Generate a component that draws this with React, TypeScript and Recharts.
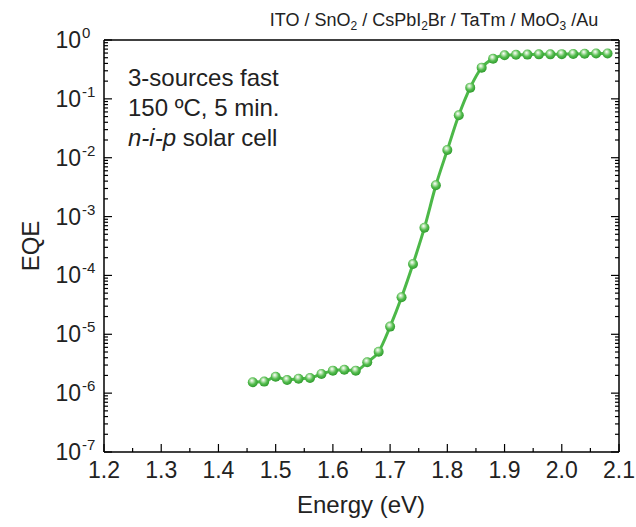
import React from 'react';
import { LineChart, Line, XAxis, YAxis } from 'recharts';

// photon energy (eV) of each measured point
const energies = [
  1.46, 1.48, 1.5, 1.52, 1.54, 1.56, 1.58, 1.6, 1.62, 1.64, 1.66, 1.68, 1.7, 1.72, 1.74, 1.76,
  1.78, 1.8, 1.82, 1.84, 1.86, 1.88, 1.9, 1.92, 1.94, 1.96, 1.98, 2.0, 2.02, 2.04, 2.06, 2.08,
];

// external quantum efficiency
const eqeValues = [
  1.53e-6, 1.57e-6, 1.9e-6, 1.67e-6, 1.76e-6, 1.81e-6, 2.12e-6, 2.41e-6, 2.5e-6, 2.41e-6, 3.34e-6,
  5.06e-6, 1.35e-5, 4.25e-5, 1.56e-4, 6.47e-4, 3.4e-3, 1.35e-2, 5.25e-2, 0.155, 0.339, 0.48,
  0.55, 0.56, 0.565, 0.57, 0.57, 0.575, 0.58, 0.585, 0.59, 0.59,
];

const xMajorTicks = [1.2, 1.3, 1.4, 1.5, 1.6, 1.7, 1.8, 1.9, 2.0, 2.1];
const xMinorTicks = [1.25, 1.35, 1.45, 1.55, 1.65, 1.75, 1.85, 1.95, 2.05];
const yExponents = [-7, -6, -5, -4, -3, -2, -1, 0];
const yMinorMultipliers = [2, 3, 4, 5, 6, 7, 8, 9];

const data = energies.map((e, i) => ({ energy: e, eqe: eqeValues[i] }));

const xTicks = [...xMajorTicks, ...xMinorTicks].sort((a, b) => a - b);
const yTicks: number[] = [];
yExponents.forEach((p) => {
  yTicks.push(Math.pow(10, p));
  if (p < 0) yMinorMultipliers.forEach((m) => yTicks.push(m * Math.pow(10, p)));
});

const FONT = 'Liberation Sans, Arial, Helvetica, sans-serif';
const GREEN = '#4cb848';

const isMajorY = (v: number) => {
  const p = Math.floor(Math.log10(v) + 1e-9);
  return Math.abs(v / Math.pow(10, p) - 1) < 1e-6;
};

const LeftTick = (props: any) => {
  const { x, y, payload } = props;
  const v = payload.value;
  const major = isMajorY(v);
  const exp = Math.round(Math.log10(v));
  return (
    <g>
      <line x1={x} y1={y} x2={x + (major ? 8 : 4)} y2={y} stroke="#000" strokeWidth={1.2} />
      {major && (
        <g fontFamily={FONT} fill="#222">
          <text x={x - 23} y={y + 8} textAnchor="end" fontSize={23}>10</text>
          <text x={x - 22} y={y - 2} textAnchor="start" fontSize={15}>{exp}</text>
        </g>
      )}
    </g>
  );
};

const RightTick = (props: any) => {
  const { x, y, payload } = props;
  const major = isMajorY(payload.value);
  return <line x1={x} y1={y} x2={x - (major ? 8 : 4)} y2={y} stroke="#000" strokeWidth={1.2} />;
};

const BottomTick = (props: any) => {
  const { x, y, payload } = props;
  const v = payload.value;
  const major = xMajorTicks.some((t) => Math.abs(t - v) < 1e-6);
  return (
    <g>
      <line x1={x} y1={y} x2={x} y2={y - (major ? 8 : 4)} stroke="#000" strokeWidth={1.2} />
      {major && (
        <text x={x} y={y + 26} textAnchor="middle" fontSize={23} fontFamily={FONT} fill="#222">
          {v.toFixed(1)}
        </text>
      )}
    </g>
  );
};

const Ball = (props: any) => {
  const { cx, cy, index } = props;
  if (cx == null || cy == null) return null;
  return <circle key={index} cx={cx} cy={cy} r={5} fill="url(#ballFill)" />;
};

export default function App() {
  return (
    <div style={{ position: 'absolute', left: 0, top: 0, width: 636, height: 527, background: '#fff' }}>
      <LineChart width={636} height={527} data={data} margin={{ top: 39, right: 16, bottom: 0, left: 0 }}>
        <defs>
          <radialGradient id="ballFill" cx="45%" cy="40%" r="60%" fx="40%" fy="32%">
            <stop offset="0%" stopColor="#ffffff" />
            <stop offset="25%" stopColor="#bfe6b8" />
            <stop offset="60%" stopColor="#55bd4f" />
            <stop offset="100%" stopColor="#2e9a2c" />
          </radialGradient>
        </defs>
        <XAxis
          dataKey="energy"
          type="number"
          domain={[1.2, 2.1]}
          ticks={xTicks}
          interval={0}
          tickSize={0}
          tickMargin={0}
          tick={<BottomTick />}
          axisLine={{ stroke: '#000', strokeWidth: 1.5 }}
          height={75}
          allowDataOverflow
        />
        <XAxis
          xAxisId="top"
          orientation="top"
          type="number"
          domain={[1.2, 2.1]}
          tick={false}
          tickLine={false}
          axisLine={{ stroke: '#000', strokeWidth: 1.5 }}
          height={1}
        />
        <YAxis
          type="number"
          scale="log"
          domain={[1e-7, 1]}
          ticks={yTicks}
          interval={0}
          tickSize={0}
          tickMargin={0}
          tick={<LeftTick />}
          axisLine={{ stroke: '#000', strokeWidth: 1.5 }}
          width={104}
          allowDataOverflow
        />
        <YAxis
          yAxisId="right"
          orientation="right"
          type="number"
          scale="log"
          domain={[1e-7, 1]}
          ticks={yTicks}
          interval={0}
          tickSize={0}
          tickMargin={0}
          tick={<RightTick />}
          axisLine={{ stroke: '#000', strokeWidth: 1.5 }}
          width={1}
          allowDataOverflow
        />
        <Line
          type="monotone"
          dataKey="eqe"
          stroke={GREEN}
          strokeWidth={3}
          dot={<Ball />}
          activeDot={false}
          isAnimationActive={false}
        />
      </LineChart>
      <svg
        width={636}
        height={527}
        style={{ position: 'absolute', left: 0, top: 0, pointerEvents: 'none' }}
        fontFamily={FONT}
        fill="#222"
      >
        <text x={434} y={26} textAnchor="middle" fontSize={18}>
          ITO / SnO<tspan fontSize={12} dy={4}>2</tspan>
          <tspan dy={-4}> / CsPbI</tspan>
          <tspan fontSize={12} dy={4}>2</tspan>
          <tspan dy={-4}>Br / TaTm / MoO</tspan>
          <tspan fontSize={12} dy={4}>3</tspan>
          <tspan dy={-4}> /Au</tspan>
        </text>
        <text x={128} y={86} fontSize={24}>3-sources fast</text>
        <text x={128} y={116} fontSize={24}>150 ºC, 5 min.</text>
        <text x={128} y={146} fontSize={24}>
          <tspan fontStyle="italic">n-i-p</tspan> solar cell
        </text>
        <text x={361} y={513} textAnchor="middle" fontSize={24}>Energy (eV)</text>
        <text x={39} y={246} textAnchor="middle" fontSize={24} transform="rotate(-90 39 246)">EQE</text>
      </svg>
    </div>
  );
}
